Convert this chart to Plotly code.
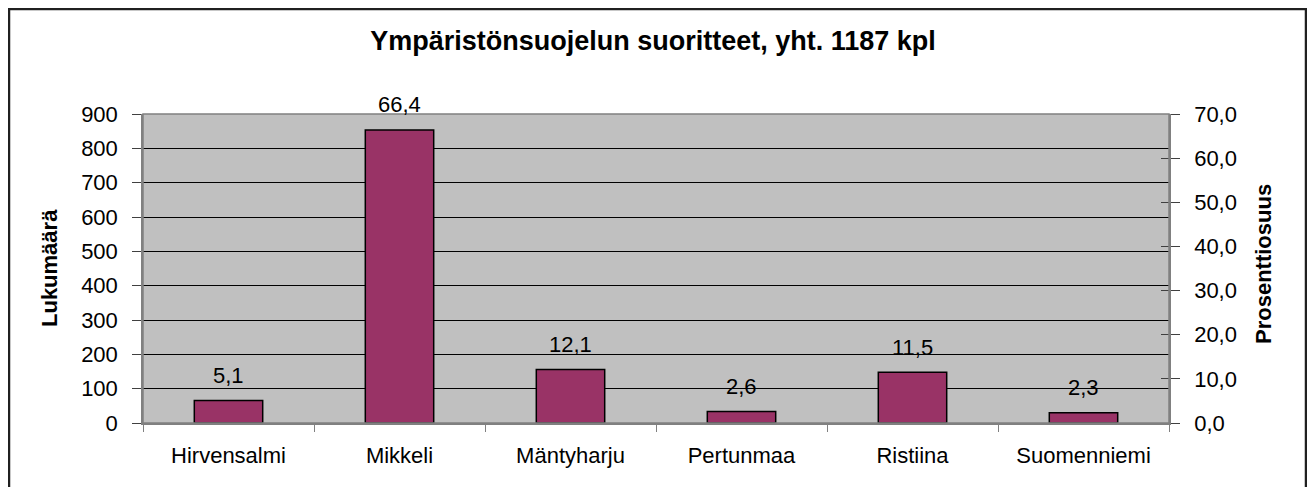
import plotly.graph_objects as go

categories = ["Hirvensalmi", "Mikkeli", "Mäntyharju", "Pertunmaa", "Ristiina", "Suomenniemi"]
percentages = [5.1, 66.4, 12.1, 2.6, 11.5, 2.3]
title_text = "Ympäristönsuojelun suoritteet, yht. 1187 kpl"
left_title = "Lukumäärä"
right_title = "Prosenttiosuus"

FONT = "Liberation Sans, Arial, sans-serif"
OFF = 8  # page body margin
W, H = 1315 - 2 * OFF, 495 - 2 * OFF
# plot-area edges in screenshot pixels
L, R, T, B = 143, 1169, 114, 423
pw, ph = R - L, B - T

def px(x):
    return (x - L) / pw

def py(y):
    return (B - y) / ph

fig = go.Figure()
# invisible trace so the left (count) axis is drawn
fig.add_trace(go.Scatter(x=categories, y=[0] * len(categories), yaxis="y", mode="markers",
                         marker=dict(opacity=0), showlegend=False, hoverinfo="skip"))
# invisible trace to activate the inner right ticks
fig.add_trace(go.Scatter(x=categories, y=[0] * len(categories), yaxis="y3", mode="markers",
                         marker=dict(opacity=0), showlegend=False, hoverinfo="skip"))
fig.add_trace(go.Bar(
    x=categories, y=percentages, yaxis="y2",
    marker=dict(color="#993366", line=dict(color="black", width=1.5)),
    width=0.4, showlegend=False, hoverinfo="x+y",
))

annotations = []
for c, v in zip(categories, percentages):
    annotations.append(dict(
        x=c, y=v, xref="x", yref="y2", text=f"{v:.1f}".replace(".", ","),
        showarrow=False, yanchor="middle", yshift=25,
        font=dict(family=FONT, size=22, color="black"),
    ))
annotations.append(dict(
    x=px(49), y=py(268), xref="paper", yref="paper", text=f"<b>{left_title}</b>",
    showarrow=False, textangle=-90, xanchor="center", yanchor="middle",
    font=dict(family=FONT, size=22, color="black"),
))
annotations.append(dict(
    x=px(1263), y=py(264), xref="paper", yref="paper", text=f"<b>{right_title}</b>",
    showarrow=False, textangle=-90, xanchor="center", yanchor="middle",
    font=dict(family=FONT, size=22, color="black"),
))

fig.update_layout(
    width=W, height=H,
    margin=dict(l=L - OFF, r=W - (R - OFF), t=T - OFF, b=H - (B - OFF), pad=0, autoexpand=False),
    paper_bgcolor="white", plot_bgcolor="#C0C0C0",
    separators=", ",
    font=dict(family=FONT, size=22, color="black"),
    title=dict(text=f"<b>{title_text}</b>", x=px(653), xref="paper", xanchor="center",
               y=1 - (41 - OFF) / H, yref="container", yanchor="middle",
               font=dict(family=FONT, size=27, color="black")),
    xaxis=dict(
        type="category", tickson="boundaries", ticks="outside", ticklen=7,
        tickcolor="#808080", showline=True, linecolor="#808080", linewidth=1.5,
        showgrid=False, tickfont=dict(family=FONT, size=22), ticklabelstandoff=12,
        fixedrange=True, automargin=False,
    ),
    yaxis=dict(
        range=[0, 900], dtick=100, tick0=0, ticks="outside", ticklen=9,
        tickcolor="#404040", showline=True, linecolor="#808080", linewidth=1.5,
        showgrid=True, gridcolor="black", gridwidth=1, zeroline=False,
        tickfont=dict(family=FONT, size=22), ticklabelstandoff=10, automargin=False,
    ),
    yaxis2=dict(
        range=[0, 70], dtick=10, tick0=0, tickformat=".1f", overlaying="y", side="right",
        ticks="outside", ticklen=9, tickcolor="#404040", showline=True,
        linecolor="#808080", linewidth=1.5, showgrid=False, zeroline=False,
        tickfont=dict(family=FONT, size=22), ticklabelstandoff=10, automargin=False,
    ),
    yaxis3=dict(
        range=[0, 70], dtick=10, tick0=0, overlaying="y", side="right",
        ticks="inside", ticklen=8, tickcolor="#404040", showticklabels=False,
        showgrid=False, zeroline=False, showline=False, automargin=False,
    ),
    annotations=annotations,
    shapes=[
        dict(type="rect", xref="paper", yref="paper", x0=0, x1=1, y0=0, y1=1,
             line=dict(color="#808080", width=1.5), layer="above"),
        dict(type="rect", xref="paper", yref="paper",
             x0=px(9), x1=px(1306), y0=py(520), y1=py(9),
             line=dict(color="#202020", width=2.5), layer="above"),
    ],
)

fig.write_html("out.html")
